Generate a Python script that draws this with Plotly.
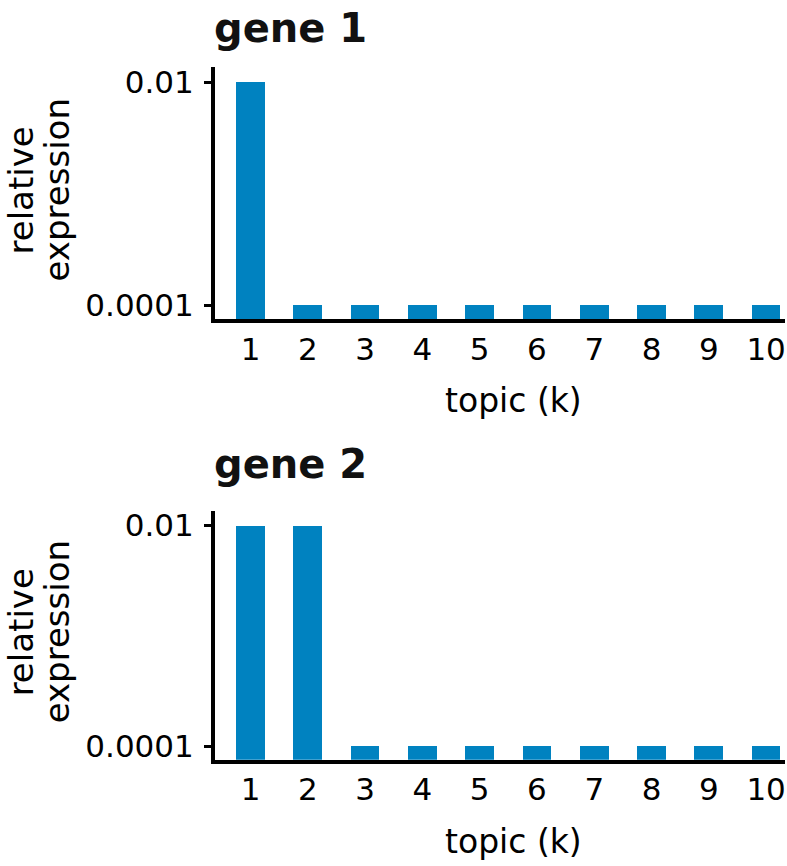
import plotly.graph_objects as go

topics = [1, 2, 3, 4, 5, 6, 7, 8, 9, 10]
gene1 = [0.01, 0.0001, 0.0001, 0.0001, 0.0001, 0.0001, 0.0001, 0.0001, 0.0001, 0.0001]
gene2 = [0.01, 0.01, 0.0001, 0.0001, 0.0001, 0.0001, 0.0001, 0.0001, 0.0001, 0.0001]
titles = ["gene 1", "gene 2"]
ytickvals = [0.0001, 0.01]
yticktext = ["0.0001", "0.01"]

W, H = 787, 866
L, R = 215, 785
BAR = "#0082c0"
FONT = "DejaVu Sans"

def px_x(p):
    return (p - L) / (R - L)

def px_y(p):
    return (H - p) / H

fig = go.Figure()
panels = [(gene1, 65, 319, "", 0), (gene2, 512, 763, "2", 440)]
for i, (vals, top, bot, sfx, ttop) in enumerate(panels):
    fig.add_trace(go.Bar(x=topics, y=vals, marker=dict(color=BAR, line=dict(width=0)),
                         width=0.5, xaxis="x" + sfx, yaxis="y" + sfx, showlegend=False))
    ax = dict(domain=[px_y(bot), px_y(top)], type="log", range=[-4.124, -1.867],
              tickvals=ytickvals, ticktext=yticktext, ticks="outside", ticklen=7, tickwidth=3,
              tickcolor="black", showline=True, linecolor="black", linewidth=4,
              showgrid=False, zeroline=False, tickfont=dict(family=FONT, size=31, color="black"),
              ticklabelstandoff=4, anchor="x" + sfx)
    xa = dict(domain=[0, 1], range=[0.38, 10.33], tickvals=topics, ticktext=[str(t) for t in topics],
              ticks="", showline=True, linecolor="black", linewidth=4, showgrid=False, zeroline=False,
              tickfont=dict(family=FONT, size=31, color="black"), ticklabelstandoff=-1,
              ticklabeloverflow="allow", anchor="y" + sfx)
    fig.layout["yaxis" + sfx] = ax
    fig.layout["xaxis" + sfx] = xa
    # panel title
    fig.add_annotation(text="<b>" + titles[i] + "</b>", xref="paper", yref="paper",
                       x=px_x(212), y=px_y(ttop), xanchor="left", yanchor="top",
                       showarrow=False, font=dict(family=FONT, size=40, color="#111111"))
    # y axis title (two lines)
    mid = (top + bot) / 2 - 3
    fig.add_annotation(text="relative", xref="paper", yref="paper", x=px_x(21), y=px_y(mid),
                       xanchor="center", yanchor="middle", textangle=-90, showarrow=False,
                       font=dict(family=FONT, size=34, color="black"))
    fig.add_annotation(text="expression", xref="paper", yref="paper", x=px_x(57), y=px_y(mid),
                       xanchor="center", yanchor="middle", textangle=-90, showarrow=False,
                       font=dict(family=FONT, size=34, color="black"))
    # x axis title
    fig.add_annotation(text="topic (k)", xref="paper", yref="paper", x=px_x(513), y=px_y(bot + 82),
                       xanchor="center", yanchor="middle", showarrow=False,
                       font=dict(family=FONT, size=33, color="black"))

fig.update_layout(width=W, height=H, margin=dict(l=L, r=W - R, t=0, b=0),
                  plot_bgcolor="white", paper_bgcolor="white", bargap=0)
fig.write_html("out.html", config={"displayModeBar": False},
               post_script="document.body.style.margin='0';")
